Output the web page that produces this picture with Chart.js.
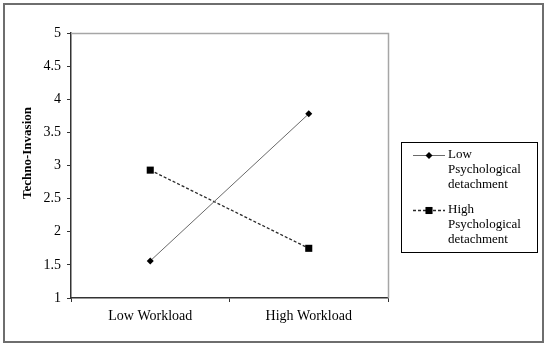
<!DOCTYPE html>
<html>
<head>
<meta charset="utf-8">
<script src="https://cdn.jsdelivr.net/npm/chart.js@4/dist/chart.umd.min.js"></script>
<style>
  html, body { margin: 0; padding: 0; background: #ffffff; }
  canvas { display: block; }
</style>
</head>
<body>
<canvas id="c" width="550" height="348"></canvas>
<script>
const categories = ["Low Workload", "High Workload"];
const seriesNames = ["Low Psychological detachment", "High Psychological detachment"];
const lowDetachment = [1.56, 3.78];
const highDetachment = [2.93, 1.75];
const yAxisTitle = "Techno-Invasion";
const yMin = 1, yMax = 5, yStep = 0.5;

const serif = "'Liberation Serif', 'Times New Roman', serif";

const decorPlugin = {
  id: 'decor',
  beforeDraw(chart) {
    const ctx = chart.ctx;
    ctx.save();
    ctx.fillStyle = '#ffffff';
    ctx.fillRect(0, 0, chart.width, chart.height);
    ctx.restore();
  },
  afterDraw(chart) {
    const ctx = chart.ctx;
    const a = chart.chartArea;
    ctx.save();
    // outer frame
    ctx.strokeStyle = '#6e6e6e';
    ctx.lineWidth = 2;
    ctx.strokeRect(4, 4, 539, 338);
    // plot area top/right border
    ctx.strokeStyle = '#a6a6a6';
    ctx.lineWidth = 1.5;
    ctx.beginPath();
    ctx.moveTo(a.left, a.top + 0.5);
    ctx.lineTo(a.right + 0.5, a.top + 0.5);
    ctx.lineTo(a.right + 0.5, a.bottom);
    ctx.stroke();
    // y-axis title
    ctx.fillStyle = '#000';
    ctx.font = "bold 13px " + serif;
    ctx.textAlign = 'center';
    ctx.textBaseline = 'middle';
    ctx.translate(28, 153);
    ctx.rotate(-Math.PI / 2);
    ctx.fillText(yAxisTitle, 0, 0);
    ctx.restore();

    // legend
    ctx.save();
    const bx = 401, by = 142, bw = 136, bh = 110;
    ctx.strokeStyle = '#000';
    ctx.lineWidth = 1;
    ctx.strokeRect(bx + 0.5, by + 0.5, bw, bh);
    ctx.font = "13px " + serif;
    ctx.textBaseline = 'middle';
    ctx.textAlign = 'left';
    const lineH = 15;
    let y = 155;
    chart.data.datasets.forEach((ds, i) => {
      const words = ds.label.split(' ');
      const lines = [];
      let cur = '';
      words.forEach(w => {
        const t = cur ? cur + ' ' + w : w;
        if (cur && ctx.measureText(t).width > 84) { lines.push(cur); cur = w; }
        else cur = t;
      });
      if (cur) lines.push(cur);
      ctx.save();
      ctx.strokeStyle = ds.borderColor;
      ctx.lineWidth = ds.borderWidth;
      ctx.setLineDash(ds.borderDash || []);
      ctx.beginPath();
      ctx.moveTo(413, y + 0.5);
      ctx.lineTo(445, y + 0.5);
      ctx.stroke();
      ctx.restore();
      ctx.save();
      ctx.fillStyle = '#000';
      ctx.strokeStyle = '#000';
      Chart.helpers.drawPoint(ctx, {
        pointStyle: ds.pointStyle, radius: ds.pointRadius, borderWidth: 0
      }, 429, y + 0.5);
      ctx.restore();
      ctx.fillStyle = '#000';
      lines.forEach((ln, k) => ctx.fillText(ln, 448, y + k * lineH));
      y += lines.length * lineH + 10;
    });
    ctx.restore();
  }
};

new Chart(document.getElementById('c'), {
  type: 'line',
  data: {
    labels: categories,
    datasets: [
      {
        label: seriesNames[0],
        data: lowDetachment,
        borderColor: '#6a6a6a',
        borderWidth: 1,
        pointStyle: 'rectRot',
        pointRadius: 3.5,
        pointBackgroundColor: '#000',
        pointBorderColor: '#000',
        pointBorderWidth: 0,
        tension: 0,
        fill: false
      },
      {
        label: seriesNames[1],
        data: highDetachment,
        borderColor: '#2a2a2a',
        borderWidth: 1.3,
        borderDash: [3, 2],
        pointStyle: 'rect',
        pointRadius: 5,
        pointBackgroundColor: '#000',
        pointBorderColor: '#000',
        pointBorderWidth: 0,
        tension: 0,
        fill: false
      }
    ]
  },
  options: {
    responsive: false,
    animation: false,
    devicePixelRatio: 1,
    layout: { padding: { left: 0, top: 33, right: 162, bottom: 0 } },
    plugins: {
      legend: { display: false },
      tooltip: { enabled: false }
    },
    scales: {
      x: {
        type: 'category',
        offset: true,
        afterFit(scale) { scale.height = 50; },
        grid: {
          offset: true,
          drawOnChartArea: false,
          drawTicks: true,
          tickLength: 4,
          color: '#333'
        },
        border: { display: true, color: '#333', width: 1.5 },
        ticks: {
          color: '#000',
          font: { family: serif, size: 14 },
          padding: 6
        }
      },
      y: {
        min: yMin,
        max: yMax,
        afterFit(scale) { scale.width = 71; },
        grid: {
          drawOnChartArea: false,
          drawTicks: true,
          tickLength: 4,
          color: '#333'
        },
        border: { display: true, color: '#333', width: 1.5 },
        ticks: {
          stepSize: yStep,
          color: '#000',
          font: { family: serif, size: 14 },
          padding: 6,
          callback: (v) => String(Math.round(v * 10) / 10)
        }
      }
    }
  },
  plugins: [decorPlugin]
});
</script>
</body>
</html>
